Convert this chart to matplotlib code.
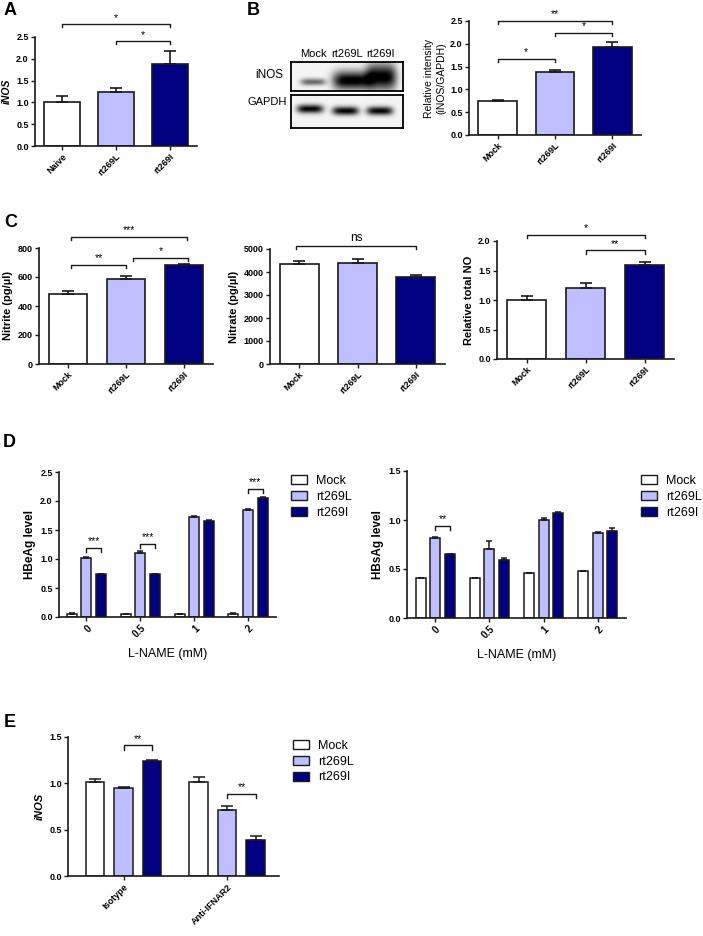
import matplotlib
matplotlib.use('Agg')
import matplotlib.pyplot as plt
import numpy as np
from matplotlib.patches import Patch

plt.rcParams['font.family'] = ['Liberation Sans', 'DejaVu Sans']

# ---- data ----
groups_a = ['Naive', 'rt269L', 'rt269I']
inos_a = [1.02, 1.24, 1.88]
inos_a_sem = [0.13, 0.09, 0.30]

lanes = ['Mock', 'rt269L', 'rt269I']
blot_inos = [0.55, 1.0, 1.0]
blot_gapdh = [0.95, 0.95, 0.95]
rel_int = [0.75, 1.39, 1.94]
rel_int_sem = [0.02, 0.04, 0.11]

nitrite = [485, 588, 681]
nitrite_sem = [18, 17, 7]
nitrate = [4335, 4391, 3796]
nitrate_sem = [143, 187, 74]
total_no = [1.00, 1.20, 1.60]
total_no_sem = [0.07, 0.09, 0.05]

lname = ['0', '0.5', '1', '2']
hbeag_mock = [0.06, 0.05, 0.05, 0.06]
hbeag_mock_sem = [0.005, 0.005, 0.005, 0.005]
hbeag_l = [1.01, 1.10, 1.72, 1.85]
hbeag_l_sem = [0.02, 0.04, 0.015, 0.005]
hbeag_i = [0.74, 0.74, 1.65, 2.05]
hbeag_i_sem = [0.01, 0.01, 0.02, 0.02]

hbsag_mock = [0.41, 0.405, 0.455, 0.475]
hbsag_mock_sem = [0.0, 0.0, 0.008, 0.006]
hbsag_l = [0.82, 0.70, 1.00, 0.87]
hbsag_l_sem = [0.01, 0.09, 0.02, 0.003]
hbsag_i = [0.65, 0.59, 1.07, 0.89]
hbsag_i_sem = [0.003, 0.025, 0.01, 0.025]

treat = ['Isotype', 'Anti-IFNAR2']
e_mock = [1.01, 1.01]
e_mock_sem = [0.035, 0.058]
e_l = [0.946, 0.715]
e_l_sem = [0.017, 0.04]
e_i = [1.24, 0.386]
e_i_sem = [0.015, 0.05]

W, H = 703, 936
fig = plt.figure(figsize=(W / 100, H / 100), dpi=100)
colors = ['white', '#BFBFFF', '#000080']
EDGE = '#1a1a1a'
TICK = 6.5


def add_ax(l, t, r, b):
    return fig.add_axes([l / W, 1 - b / H, (r - l) / W, (b - t) / H])


def style(ax, yticks, fmt, xlim, ylabel, italic=False, ysize=7.5, weight='bold'):
    ax.set_xlim(*xlim)
    ax.set_ylim(yticks[0], yticks[-1])
    ax.set_yticks(yticks)
    ax.set_yticklabels([fmt.format(v) for v in yticks], fontsize=TICK, fontweight='bold')
    for s in ['top', 'right']:
        ax.spines[s].set_visible(False)
    for s in ['left', 'bottom']:
        ax.spines[s].set_linewidth(1.2)
        ax.spines[s].set_color(EDGE)
    ax.tick_params(length=3, width=1, color=EDGE, pad=1.5)
    ax.set_ylabel(ylabel, fontsize=ysize, fontweight=weight,
                  fontstyle='italic' if italic else 'normal', labelpad=3)


def bracket(ax, x1, x2, y, label, dy, size=7.5):
    ax.plot([x1, x1, x2, x2], [y - dy, y, y, y - dy], color=EDGE, lw=1.0, clip_on=False)
    ax.text((x1 + x2) / 2, y + dy * 0.4, label, ha='center', va='bottom',
            fontsize=size, clip_on=False)


def simple_panel(rect, labels, means, sems, yticks, fmt, ylabel, brackets, italic=False,
                 ysize=7.5, weight='bold', bsize=7.5):
    ax = add_ax(*rect)
    x = np.arange(len(means))
    ax.bar(x, means, width=0.67, color=colors, edgecolor=EDGE, linewidth=1.2, zorder=2)
    ax.errorbar(x, means, yerr=[np.zeros(len(sems)), sems], fmt='none', ecolor=EDGE,
                elinewidth=1.2, capsize=4.5, capthick=1.2, zorder=3)
    style(ax, yticks, fmt, (-0.5, 2.5), ylabel, italic, ysize, weight)
    ax.set_xticks(x)
    ax.set_xticklabels(labels, rotation=45, ha='right', rotation_mode='anchor',
                       fontsize=TICK, fontweight='bold')
    dy = yticks[-1] * 0.03
    for x1, x2, y, lab in brackets:
        bracket(ax, x1, x2, y, lab, dy, bsize)
    return ax


def grouped_panel(rect, labels, series, sems, width, off, xlim, yticks, ylabel, brackets,
                  legend_xy, italic=False, capsize=2.5, ysize=8.5):
    ax = add_ax(*rect)
    x = np.arange(len(labels))
    for k, (vals, err) in enumerate(zip(series, sems)):
        pos = x + (k - 1) * off
        ax.bar(pos, vals, width=width, color=colors[k], edgecolor=EDGE, linewidth=1.1, zorder=2)
        ax.errorbar(pos, vals, yerr=[np.zeros(len(err)), err], fmt='none', ecolor=EDGE,
                    elinewidth=1.1, capsize=capsize, capthick=1.1, zorder=3)
    style(ax, yticks, '{:.1f}', xlim, ylabel, italic, ysize)
    ax.set_xticks(x)
    ax.set_xticklabels(labels, rotation=45, ha='right', rotation_mode='anchor',
                       fontsize=7 if len(labels) > 2 else TICK, fontweight='bold')
    dy = yticks[-1] * 0.03
    for g, y, lab in brackets:
        bracket(ax, g, g + off, y, lab, dy)
    handles = [Patch(facecolor=c, edgecolor=EDGE, linewidth=1.0) for c in colors]
    ax.legend(handles, lanes, loc='upper left', bbox_to_anchor=legend_xy,
              bbox_transform=fig.transFigure, frameon=False, fontsize=9,
              handlelength=1.3, handleheight=0.75, handletextpad=0.7,
              labelspacing=0.3, borderpad=0, borderaxespad=0)
    return ax


# ---- A ----
simple_panel((35, 37, 197, 146), groups_a, inos_a, inos_a_sem,
             [0, 0.5, 1.0, 1.5, 2.0, 2.5], '{:.1f}', 'iNOS',
             [(0, 2, 2.80, '*'), (1, 2, 2.41, '*')], italic=True)

# ---- B: blot ----
def blot(rect, amps, cxs, wxs, cys, wys):
    ax = add_ax(*rect)
    xs = np.linspace(-0.65, 2.65, 330)
    ys = np.linspace(0, 1, 100)
    X, Y = np.meshgrid(xs, ys)
    img = np.full(X.shape, 0.04)
    for a, cx, wx, cy, wy in zip(amps, cxs, wxs, cys, wys):
        img += a * np.exp(-((X - cx) / wx) ** 4 - ((Y - cy) / wy) ** 2)
    ax.imshow(np.clip(img, 0, 1), cmap='gray_r', vmin=0, vmax=1, origin='lower',
              extent=(-0.65, 2.65, 0, 1), aspect='auto', interpolation='bilinear')
    ax.set_xlim(-0.65, 2.65)
    ax.set_ylim(0, 1)
    ax.set_xticks([])
    ax.set_yticks([])
    for s in ax.spines.values():
        s.set_linewidth(1.3)
        s.set_color('black')
    return ax


ax_i = blot((291, 62, 403, 91), blot_inos, [0, 1.13, 2.01], [0.37, 0.55, 0.45],
            [0.31, 0.36, 0.48], [0.12, 0.32, 0.45])
ax_g = blot((291, 95, 403, 128), blot_gapdh, [-0.09, 0.96, 1.97], [0.39, 0.39, 0.39],
            [0.58, 0.52, 0.52], [0.13, 0.13, 0.13])
for k, lab in enumerate(lanes):
    ax_i.text(k, 1.12, lab, ha='center', va='bottom', fontsize=8)
ax_i.text(-0.19, 0.55, 'iNOS', transform=ax_i.transAxes, ha='center', va='center', fontsize=8.5)
ax_g.text(-0.215, 0.8, 'GAPDH', transform=ax_g.transAxes, ha='center', va='center', fontsize=8)

simple_panel((469, 21, 641, 135), lanes, rel_int, rel_int_sem,
             [0, 0.5, 1.0, 1.5, 2.0, 2.5], '{:.1f}', 'Relative intensity\n(iNOS/GAPDH)',
             [(0, 1, 1.67, '*'), (1, 2, 2.24, '*'), (0, 2, 2.51, '**')],
             ysize=7.5, weight='normal')

# ---- C ----
simple_panel((39, 248, 213, 364), lanes, nitrite, nitrite_sem,
             [0, 200, 400, 600, 800], '{:d}', 'Nitrite (pg/µl)',
             [(0.05, 2.05, 878, '***'), (0.05, 1.0, 683, '**'), (1.12, 2.07, 733, '*')],
             ysize=8)
simple_panel((270, 249, 445, 364), lanes, nitrate, nitrate_sem,
             [0, 1000, 2000, 3000, 4000, 5000], '{:d}', 'Nitrate (pg/µl)',
             [(-0.05, 2.0, 5143, 'ns')], bsize=8.5, ysize=8)
simple_panel((497, 241, 674, 359), lanes, total_no, total_no_sem,
             [0, 0.5, 1.0, 1.5, 2.0], '{:.1f}', 'Relative total NO',
             [(0, 2, 2.11, '*'), (1, 2, 1.84, '**')], ysize=8)

# ---- D ----
d1 = grouped_panel((59, 472, 276, 617), lname, [hbeag_mock, hbeag_l, hbeag_i],
                   [hbeag_mock_sem, hbeag_l_sem, hbeag_i_sem], 0.186, 0.27, (-0.51, 3.52),
                   [0, 0.5, 1.0, 1.5, 2.0, 2.5], 'HBeAg level',
                   [(0, 1.19, '***'), (1, 1.26, '***'), (3, 2.21, '***')],
                   (291 / W, 1 - 475 / H))
d2 = grouped_panel((407, 471, 626, 618), lname, [hbsag_mock, hbsag_l, hbsag_i],
                   [hbsag_mock_sem, hbsag_l_sem, hbsag_i_sem], 0.186, 0.27, (-0.52, 3.52),
                   [0, 0.5, 1.0, 1.5], 'HBsAg level', [(0, 0.94, '**')],
                   (641 / W, 1 - 475 / H))
for ax in (d1, d2):
    ax.set_xlabel('L-NAME (mM)', fontsize=9, labelpad=6)

# ---- E ----
grouped_panel((68, 737, 279, 876), treat, [e_mock, e_l, e_i],
              [e_mock_sem, e_l_sem, e_i_sem], 0.179, 0.275, (-0.536, 1.5),
              [0, 0.5, 1.0, 1.5], 'iNOS', [(0, 1.41, '**'), (1, 0.885, '**')],
              (293 / W, 1 - 740 / H), italic=True, capsize=4, ysize=8)

# panel letters
for letter, (px, py) in zip('ABCDE', [(4, 15), (247, 15), (4, 227), (3, 447), (4, 727)]):
    fig.text(px / W, 1 - py / H, letter, fontsize=13, fontweight='bold', ha='left', va='baseline')

fig.savefig('out.png', dpi=100)
